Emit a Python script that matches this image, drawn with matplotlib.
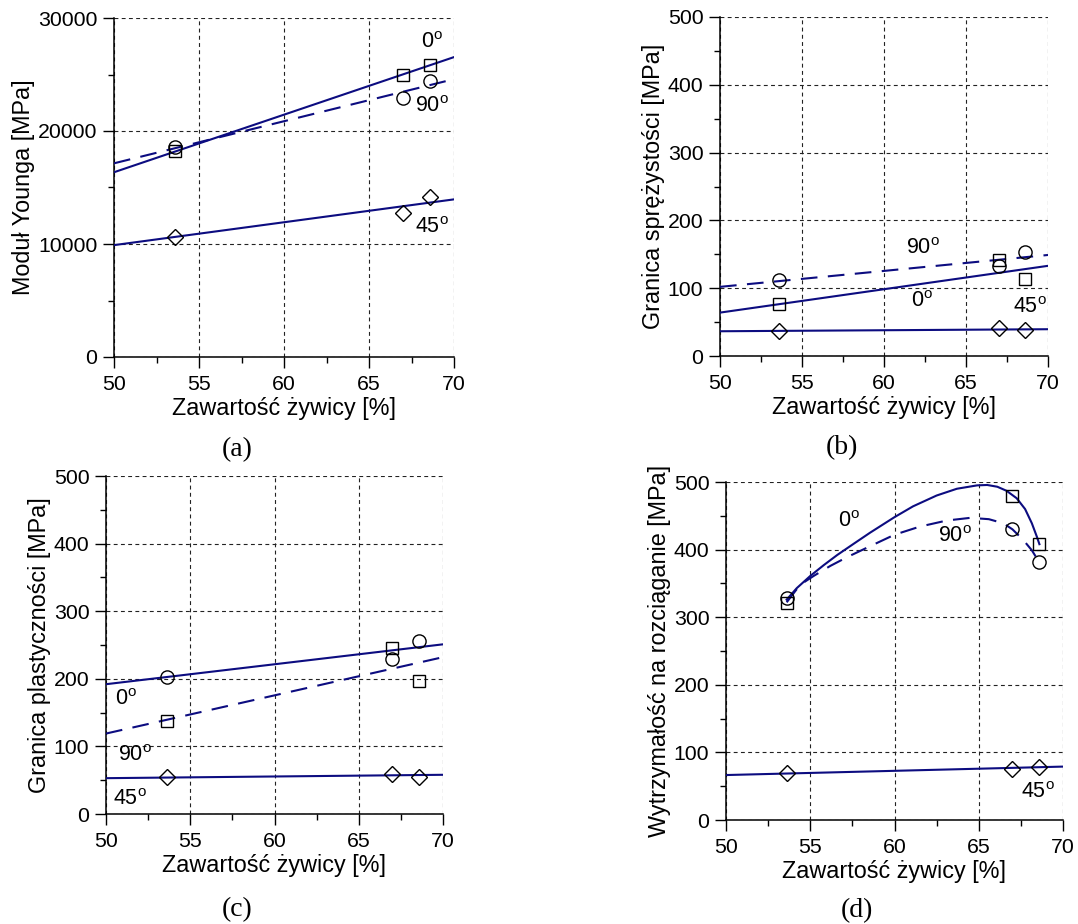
import numpy as np
import matplotlib
matplotlib.use("Agg")
import matplotlib.pyplot as plt
from matplotlib.ticker import MultipleLocator

plt.rcParams['font.family'] = ['Liberation Sans', 'DejaVu Sans']
plt.rcParams['mathtext.fontset'] = 'custom'
plt.rcParams['mathtext.rm'] = 'Liberation Sans'

NAVY = '#0c0c80'

# resin content of the three samples
x_pts = [53.6, 67.0, 68.6]

# (a) Young's modulus
a_0 = [18200, 25000, 25800]
a_90 = [18600, 22900, 24400]
a_45 = [10600, 12700, 14200]
a_fit_x = [50, 70]
a_fit_0 = [16350, 26540]
a_fit_90 = [17140, 24590]
a_fit_45 = [9900, 13950]

# (b) elastic limit
b_0 = [76, 141, 114]
b_90 = [112, 133, 154]
b_45 = [37, 41, 38]
b_fit_x = [50, 70]
b_fit_0 = [64, 133]
b_fit_90 = [102, 149]
b_fit_45 = [36.5, 39.5]

# (c) yield point
c_0 = [203, 230, 256]
c_90 = [137, 245, 197]
c_45 = [54, 59, 55]
c_fit_x = [50, 70]
c_fit_0 = [192, 251]
c_fit_90 = [119, 232]
c_fit_45 = [53, 58]

# (d) tensile strength
d_0 = [321, 480, 409]
d_90 = [328, 431, 382]
d_45 = [69, 75, 79]
d_curve0_x = [53.6, 54.2, 55.0, 55.8, 56.6, 57.6, 58.55, 60.0, 61.1, 62.5, 63.7,
              64.9, 65.5, 66.1, 66.65, 67.25, 67.75, 68.15, 68.45, 68.6]
d_curve0_y = [326, 343, 361, 377, 392, 409, 425, 448, 464, 480, 490,
              495, 495.6, 493, 487, 476, 460, 439, 419, 408]
d_curve90_x = [53.6, 54.4, 55.2, 56.2, 57.2, 58.55, 60.0, 61.5, 63.1, 64.5,
               65.6, 66.45, 67.0, 67.65, 68.15, 68.6]
d_curve90_y = [322, 348, 361, 376, 389, 405, 422, 434, 443, 447,
               445, 439, 430, 414, 399, 381]
d_fit_x = [50, 70]
d_fit_45 = [66.5, 79]

W, H = 1078, 924
fig = plt.figure(figsize=(W / 100, H / 100), dpi=100)

def make_ax(l, r, t, b):
    return fig.add_axes([l / W, (H - b) / H, (r - l) / W, (b - t) / H])

axes = [make_ax(114, 454, 18, 357), make_ax(720, 1048, 17, 356),
        make_ax(106, 443, 476, 814), make_ax(726, 1063, 482, 820)]

ylabels = ['Moduł Younga [MPa]', 'Granica sprężystości [MPa]',
           'Granica plastyczności [MPa]', 'Wytrzymałość na rozciąganie [MPa]']
letters = ['(a)', '(b)', '(c)', '(d)']
letter_pos = [(237, 450), (842, 448), (237, 910), (857, 911)]

def deg(s):
    return s + r'$^{\mathrm{o}}$'

mk = dict(linestyle='none', mfc='none', mec='black', mew=1.0, zorder=4)
ln = dict(color=NAVY, lw=1.5, zorder=3)
dash = dict(color=NAVY, lw=1.5, dashes=(8, 5), zorder=3)
FS = 15.5

for i, ax in enumerate(axes):
    ax.set_xlim(50, 70)
    ax.xaxis.set_major_locator(MultipleLocator(5))
    ax.xaxis.set_minor_locator(MultipleLocator(2.5))
    if i == 0:
        ax.set_ylim(0, 30000)
        ax.yaxis.set_major_locator(MultipleLocator(10000))
        ax.yaxis.set_minor_locator(MultipleLocator(5000))
    else:
        ax.set_ylim(0, 500)
        ax.yaxis.set_major_locator(MultipleLocator(100))
        ax.yaxis.set_minor_locator(MultipleLocator(50))
    for s in ['top', 'right']:
        ax.spines[s].set_visible(False)
    for s in ['left', 'bottom']:
        ax.spines[s].set_linewidth(1.1)
    ax.tick_params(which='major', direction='out', length=8, width=1.0, labelsize=15.3)
    ax.tick_params(axis='x', which='major', pad=5)
    ax.tick_params(axis='y', which='major', pad=4)
    ax.tick_params(which='minor', direction='out', length=4, width=1.0)
    ax.grid(True, which='major', color='#222222', linestyle=(0, (3.5, 3)), lw=0.8)
    ax.set_axisbelow(True)
    ax.set_xlabel('Zawartość żywicy [%]', fontsize=16.8, labelpad=2)
    ax.set_ylabel(ylabels[i], fontsize=16.8, labelpad=2)
    px, py = letter_pos[i]
    fig.text(px / W, 1 - py / H, letters[i], ha='center', va='center',
             fontsize=20, family='Liberation Serif')

# (a)
ax = axes[0]
ax.plot(a_fit_x, a_fit_0, **ln)
ax.plot(a_fit_x, a_fit_90, **dash)
ax.plot(a_fit_x, a_fit_45, **ln)
ax.plot(x_pts, a_0, marker='s', ms=8, **mk)
ax.plot(x_pts, a_90, marker='o', ms=9.5, **mk)
ax.plot(x_pts, a_45, marker='D', ms=8.5, **mk)
ax.text(68.7, 27800, deg('0'), ha='center', va='center', fontsize=FS)
ax.text(68.7, 22200, deg('90'), ha='center', va='center', fontsize=FS)
ax.text(68.7, 11500, deg('45'), ha='center', va='center', fontsize=FS)

# (b)
ax = axes[1]
ax.plot(b_fit_x, b_fit_0, **ln)
ax.plot(b_fit_x, b_fit_90, **dash)
ax.plot(b_fit_x, b_fit_45, **ln)
ax.plot(x_pts, b_0, marker='s', ms=8, **mk)
ax.plot(x_pts, b_90, marker='o', ms=9.5, **mk)
ax.plot(x_pts, b_45, marker='D', ms=8.5, **mk)
ax.text(62.4, 159, deg('90'), ha='center', va='center', fontsize=FS)
ax.text(62.3, 80, deg('0'), ha='center', va='center', fontsize=FS)
ax.text(68.9, 71, deg('45'), ha='center', va='center', fontsize=FS)

# (c)
ax = axes[2]
ax.plot(c_fit_x, c_fit_0, **ln)
ax.plot(c_fit_x, c_fit_90, **dash)
ax.plot(c_fit_x, c_fit_45, **ln)
ax.plot(x_pts, c_0, marker='o', ms=9.5, **mk)
ax.plot(x_pts, c_90, marker='s', ms=8, **mk)
ax.plot(x_pts, c_45, marker='D', ms=8.5, **mk)
ax.text(51.2, 169, deg('0'), ha='center', va='center', fontsize=FS)
ax.text(51.7, 87, deg('90'), ha='center', va='center', fontsize=FS)
ax.text(51.4, 22, deg('45'), ha='center', va='center', fontsize=FS)

# (d)
ax = axes[3]
ax.plot(d_curve0_x, d_curve0_y, **ln)
ax.plot(d_curve90_x, d_curve90_y, **dash)
ax.plot(d_fit_x, d_fit_45, **ln)
ax.plot(x_pts, d_0, marker='s', ms=8, **mk)
ax.plot(x_pts, d_90, marker='o', ms=9.5, **mk)
ax.plot(x_pts, d_45, marker='D', ms=8.5, **mk)
ax.text(57.3, 442, deg('0'), ha='center', va='center', fontsize=FS)
ax.text(63.6, 419, deg('90'), ha='center', va='center', fontsize=FS)
ax.text(68.5, 40, deg('45'), ha='center', va='center', fontsize=FS)

fig.savefig('out.png', dpi=100)
